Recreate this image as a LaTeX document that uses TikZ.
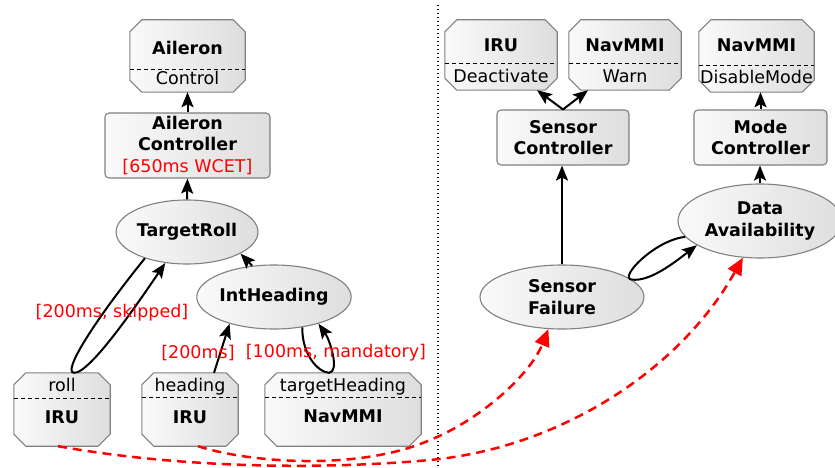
\documentclass[tikz,border=0pt]{standalone}
\usepackage{fontspec}
\setmainfont{DejaVu Sans}
\usetikzlibrary{shapes.geometric,arrows.meta}
\definecolor{bord}{HTML}{808080}
\newcommand\octshape[1]{%
  \path[shd] ([xshift=12pt]#1.north west) -- ([xshift=-12pt]#1.north east)
    -- ([yshift=-12pt]#1.north east) -- ([yshift=12pt]#1.south east)
    -- ([xshift=-12pt]#1.south east) -- ([xshift=12pt]#1.south west)
    -- ([yshift=12pt]#1.south west) -- ([yshift=-12pt]#1.north west) -- cycle;}
\begin{document}
\begin{tikzpicture}[x=1pt,y=-1pt,
  every node/.style={font=\fontsize{17.5}{21.5}\selectfont},
  shd/.style={draw=bord, line width=1.1pt, left color=gray!4, right color=gray!26},
  octa/.style={rectangle, inner sep=0pt},
  rbox/.style={shd, rectangle, rounded corners=4pt, inner sep=0pt, align=center, font=\fontsize{17.5}{21.5}\selectfont\bfseries},
  oval/.style={shd, ellipse, inner sep=0pt, align=center, font=\fontsize{17.5}{21.5}\selectfont\bfseries},
  ttl/.style={anchor=base, inner sep=0pt, font=\fontsize{17.5}{21.5}\selectfont\bfseries},
  sub/.style={anchor=base, inner sep=0pt},
  sepl/.style={line width=0.8pt, dash pattern=on 4pt off 3pt},
  arr/.style={line width=2pt, -{Stealth[length=15pt,width=12pt,inset=3pt]}},
  redarr/.style={red, line width=2.5pt, dash pattern=on 9pt off 6pt, -{Triangle[length=17pt,width=15pt]}},
  lbl/.style={red, inner sep=0pt}
]
\clip (0,0) rectangle (835,468);
% divider
\draw[line width=1.4pt, dash pattern=on 1.4pt off 2.6pt] (438,5) -- (438,468);

% ---------- left part ----------
\node[octa, minimum width=115pt, minimum height=72pt] (ail) at (187.5,56) {};
\octshape{ail}
\draw[sepl] (130,69) -- (245,69);
\node[ttl] (ailT) at (187.5,55) {Aileron};
\node[sub] (ailS) at (187.5,85) {Control};

\node[rbox, minimum width=165pt, minimum height=65pt] (ailc) at (187.5,145.5)
  {Aileron\\Controller\\\textcolor{red}{\mdseries[650ms WCET]}};

\node[oval, minimum width=130pt, minimum height=64pt] (troll) at (187,232) {TargetRoll};
\node[oval, minimum width=130pt, minimum height=64pt] (inth) at (274,297) {IntHeading};

\node[octa, minimum width=96pt, minimum height=73pt] (iru1) at (62,409.5) {};
\octshape{iru1}
\draw[sepl] (14,398) -- (110,398);
\node[sub] (iru1S) at (62,391.5) {roll};
\node[ttl] (iru1T) at (62,423) {IRU};

\node[octa, minimum width=96pt, minimum height=73pt] (iru2) at (190,409.5) {};
\octshape{iru2}
\draw[sepl] (142,397) -- (238,397);
\node[sub] (iru2S) at (190,391) {heading};
\node[ttl] (iru2T) at (190,423) {IRU};

\node[octa, minimum width=156pt, minimum height=73pt] (nav1) at (343,409.5) {};
\octshape{nav1}
\draw[sepl] (265,397) -- (421,397);
\node[sub] (nav1S) at (343,391) {targetHeading};
\node[ttl] (nav1T) at (343,422) {NavMMI};

\draw[arr] (ailc.north) -- (ail.south);
\draw[arr] (troll.north) -- (ailc.south);
\draw[arr] (inth.125) -- (troll.-22);
\draw[arr] (troll.212) .. controls (95,320) and (62,372) .. ([xshift=12pt]iru1.north)
  .. controls (90,374) and (140,300) .. (troll.235);
\draw[arr] ([xshift=24pt]iru2.north) -- (inth.211);
\draw[arr] (inth.-47) .. controls (302,355) and (318,372) .. ([xshift=-14pt]nav1.north)
  .. controls (340,372) and (330,340) .. (inth.-31);

\node[lbl] (l1) at (112,313) {[200ms, skipped]};
\node[lbl] (l2) at (198,353) {[200ms]};
\node[lbl] (l3) at (336,353) {[100ms, mandatory]};

% ---------- right part ----------
\node[octa, minimum width=112pt, minimum height=70pt] (iru3) at (501,55) {};
\octshape{iru3}
\draw[sepl] (445,63) -- (557,63);
\node[ttl] (iru3T) at (501,51.7) {IRU};
\node[sub] (iru3S) at (501,82.7) {Deactivate};

\node[octa, minimum width=112pt, minimum height=70pt] (nav2) at (625,55) {};
\octshape{nav2}
\draw[sepl] (569,63) -- (681,63);
\node[ttl] (nav2T) at (625,51.7) {NavMMI};
\node[sub] (nav2S) at (625,82.7) {Warn};

\node[octa, minimum width=115pt, minimum height=72pt] (nav3) at (756.5,56) {};
\octshape{nav3}
\draw[sepl] (699,65) -- (814,65);
\node[ttl] (nav3T) at (756.5,52) {NavMMI};
\node[sub] (nav3S) at (756.5,83.3) {DisableMode};

\node[rbox, minimum width=132pt, minimum height=55pt] (senc) at (563,137.5) {Sensor\\Controller};
\node[rbox, minimum width=133pt, minimum height=55pt] (modc) at (760.5,137.5) {Mode\\Controller};

\node[oval, minimum width=164pt, minimum height=64pt] (senf) at (562,297) {Sensor\\Failure};
\node[oval, minimum width=164pt, minimum height=74pt] (dava) at (760,221) {Data\\Availability};

\draw[arr] (senc.north) -- ([xshift=36pt]iru3.south);
\draw[arr] (senc.north) -- ([xshift=-37pt]nav2.south);
\draw[arr] (modc.north) -- (modc.north |- nav3.south);
\draw[arr] (senf.north) -- (senf.north |- senc.south);
\draw[arr] (dava.north) -- (dava.north |- modc.south);
\draw[arr] (dava.192) .. controls (655,240) and (618,278) .. (senf.14)
  .. controls (650,282) and (675,262) .. (dava.201);

% red dashed dependencies
\coordinate (m1) at (430,460);
\coordinate (m2) at (430,440);
\draw[redarr] ([xshift=-4pt]iru1.south) .. controls (180,468) and (320,470) .. (m1)
  .. controls (560,448) and (680,370) .. (dava.-115);
\draw[redarr] ([xshift=8pt]iru2.south) .. controls (250,463) and (360,471) .. (m2)
  .. controls (480,420) and (530,375) .. (senf.-113);
\end{tikzpicture}
\end{document}
